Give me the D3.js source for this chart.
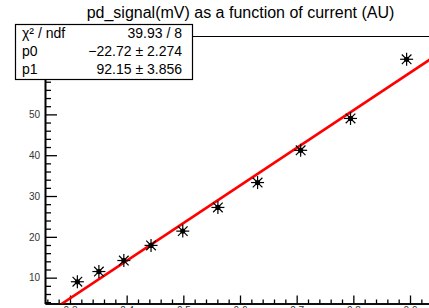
<!DOCTYPE html>
<html><head><meta charset="utf-8">
<script src="https://cdn.jsdelivr.net/npm/d3@7"></script>
<style>
html,body{margin:0;padding:0;background:#fff;overflow:hidden}
text{font-family:"Liberation Sans",Arial,Helvetica,sans-serif}
</style></head>
<body>
<svg id="c" width="429" height="308"></svg>
<script>
// ---- data ----
const currentAU = [0.313, 0.351, 0.395, 0.443, 0.499, 0.561, 0.631, 0.707, 0.795, 0.894];
const signalMV = [9.0, 11.5, 14.2, 17.9, 21.4, 27.2, 33.3, 41.2, 49.0, 63.5];
const fitP0 = -22.72, fitP1 = 92.15;
const xMajorTicks = [0.3, 0.4, 0.5, 0.6, 0.7, 0.8, 0.9];
const yMajorTicks = [10, 20, 30, 40, 50, 60];
const yLabelledTicks = [10, 20, 30, 40, 50];
const titleText = "pd_signal(mV) as a function of current (AU)";
const statsLabels = ["\u03c7\u00b2 / ndf", "p0", "p1"];
const statsValues = ["39.93 / 8", "\u221222.72 \u00b1 2.274", "92.15 \u00b1 3.856"];

// ---- layout ----
const svg = d3.select("#c");
svg.append("rect").attr("width", 429).attr("height", 308).attr("fill", "#fff");
const L = 45, T = 36, B = 303.5, R = 480;
const x = d3.scaleLinear().domain([0.2559, 0.9335]).range([L, 429]);
const y = d3.scaleLinear().domain([3.67, 69.2]).range([B, T]);

svg.append("defs").append("clipPath").attr("id", "fr")
  .append("rect").attr("x", L).attr("y", T).attr("width", R - L).attr("height", B - T);

// frame top line
svg.append("line").attr("x1", L).attr("x2", R).attr("y1", T + 0.5).attr("y2", T + 0.5)
  .attr("stroke", "#000").attr("stroke-width", 1);

// minor tick values
const xMinor = d3.range(0.26, 0.94, 0.02).map(v => +v.toFixed(2)).filter(v => Math.abs(v * 10 - Math.round(v * 10)) > 1e-6);
const yMinor = d3.range(4, 70, 2).filter(v => v % 10 !== 0);

// y axis
const gy = svg.append("g").attr("transform", `translate(${L},0)`);
gy.call(d3.axisLeft(y).tickValues(yMinor).tickSize(-6).tickSizeOuter(0).tickFormat(""));
gy.selectAll(".tick line").attr("stroke-width", 1.3);
const gy2 = svg.append("g").attr("transform", `translate(${L},0)`);
gy2.call(d3.axisLeft(y).tickValues(yMajorTicks).tickSize(-12).tickSizeOuter(0).tickPadding(5)
  .tickFormat(d => yLabelledTicks.includes(d) ? d3.format("d")(d) : ""));
gy2.selectAll(".tick line").attr("stroke-width", 1.3);
gy2.selectAll("text").attr("font-size", 10).attr("fill", "#333").attr("font-family", "Liberation Sans, Arial, sans-serif");

// x axis
const gx = svg.append("g").attr("transform", `translate(0,${B})`);
gx.call(d3.axisBottom(x).tickValues(xMinor).tickSize(-4).tickSizeOuter(0).tickFormat(""));
gx.selectAll(".tick line").attr("stroke-width", 1.3);
const gx2 = svg.append("g").attr("transform", `translate(0,${B})`);
gx2.call(d3.axisBottom(x).tickValues(xMajorTicks).tickSize(-8).tickSizeOuter(0).tickPadding(3).tickFormat(d3.format(".1f")));
gx2.selectAll(".tick line").attr("stroke-width", 1.3);
gx2.selectAll("text").attr("font-size", 10).attr("fill", "#333").attr("font-family", "Liberation Sans, Arial, sans-serif");
svg.selectAll(".domain").attr("stroke-width", 1.6);

// fit line
svg.append("path").attr("clip-path", "url(#fr)")
  .attr("d", d3.line().x(d => x(d)).y(d => y(fitP0 + fitP1 * d))([x.domain()[0], 1.0]))
  .attr("stroke", "#ff0000").attr("stroke-width", 2.6).attr("fill", "none");

// markers (asterisk)
const pts = currentAU.map((c, i) => [c, signalMV[i]]);
const mk = svg.append("g");
const r = 6.5, rd = 4.8;
pts.forEach(([cx, cy]) => {
  const px = x(cx), py = y(cy);
  const g = mk.append("g").attr("transform", `translate(${px},${py})`);
  const segs = [[-r, 0, r, 0], [0, -r, 0, r], [-rd, -rd, rd, rd], [-rd, rd, rd, -rd]];
  segs.forEach(s => g.append("line").attr("x1", s[0]).attr("y1", s[1]).attr("x2", s[2]).attr("y2", s[3])
    .attr("stroke", "#000").attr("stroke-width", 1.2));
  g.append("circle").attr("r", 2.6).attr("fill", "#000");
});

// title
svg.append("text").attr("x", 240.5).attr("y", 17.5).attr("text-anchor", "middle")
  .attr("font-size", 16).attr("fill", "#000").text(titleText);

// stats box
svg.append("rect").attr("x", 15.5).attr("y", 24.5).attr("width", 177).attr("height", 55)
  .attr("fill", "#fff").attr("stroke", "#000").attr("stroke-width", 1.2);
const rowsY = [38, 56, 74];
statsLabels.forEach((s, i) => svg.append("text").attr("x", 22).attr("y", rowsY[i])
  .attr("font-size", 14).attr("fill", "#000").text(s));
statsValues.forEach((s, i) => svg.append("text").attr("x", 182).attr("y", rowsY[i])
  .attr("text-anchor", "end").attr("font-size", 14).attr("fill", "#000").text(s));
</script>
</body></html>
